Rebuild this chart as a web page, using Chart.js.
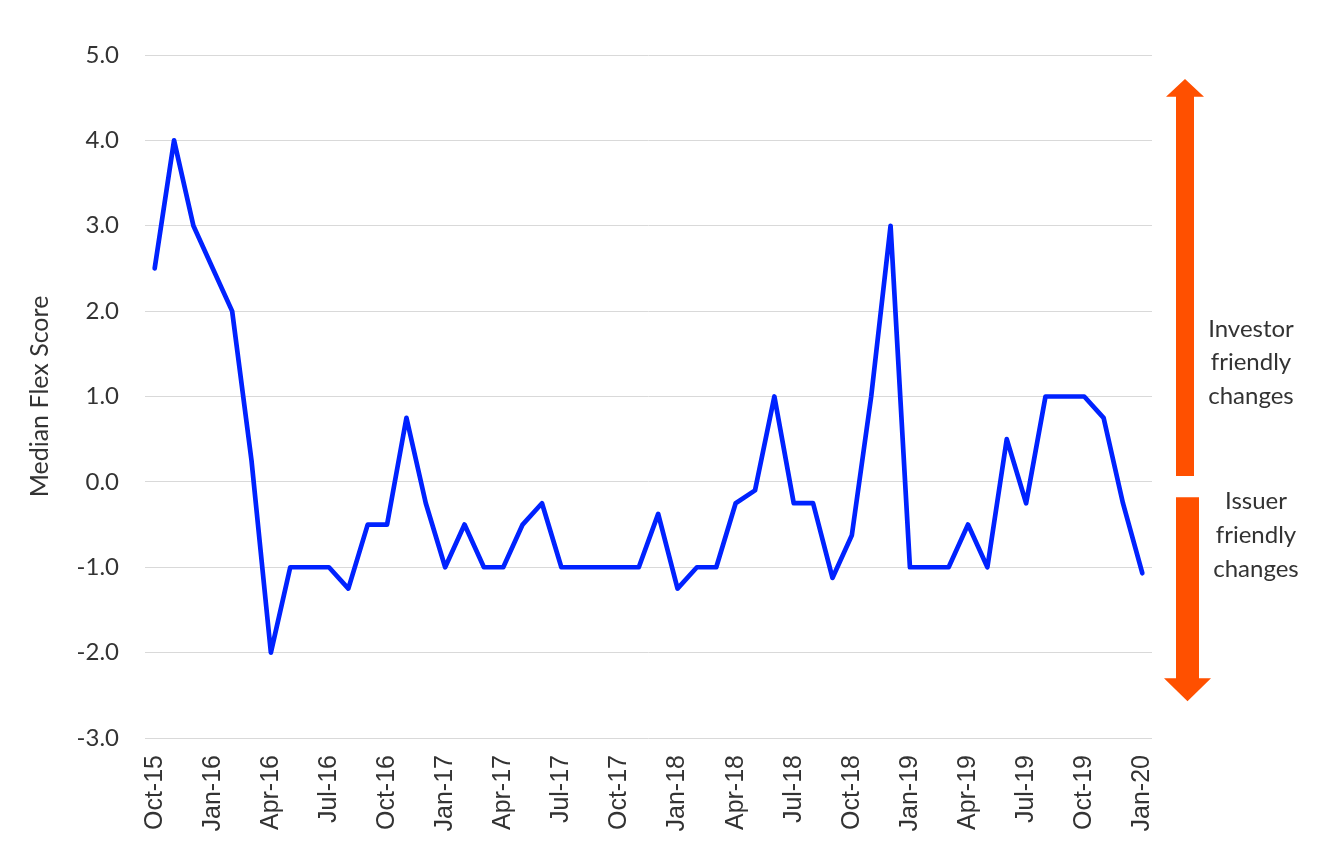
<!DOCTYPE html>
<html><head><meta charset="utf-8">
<script src="https://cdn.jsdelivr.net/npm/chart.js@4.4.1/dist/chart.umd.min.js"></script>
<style>html,body{margin:0;padding:0;background:#fff}#wrap{width:1322px;height:866px;position:relative}</style>
</head><body><div id="wrap"><canvas id="c"></canvas></div>
<script>
const months = ['Oct-15','Nov-15','Dec-15','Jan-16','Feb-16','Mar-16','Apr-16','May-16','Jun-16','Jul-16','Aug-16','Sep-16',
  'Oct-16','Nov-16','Dec-16','Jan-17','Feb-17','Mar-17','Apr-17','May-17','Jun-17','Jul-17','Aug-17','Sep-17',
  'Oct-17','Nov-17','Dec-17','Jan-18','Feb-18','Mar-18','Apr-18','May-18','Jun-18','Jul-18','Aug-18','Sep-18',
  'Oct-18','Nov-18','Dec-18','Jan-19','Feb-19','Mar-19','Apr-19','May-19','Jun-19','Jul-19','Aug-19','Sep-19',
  'Oct-19','Nov-19','Dec-19','Jan-20'];
const flexScore = [2.5, 4.0, 3.0, 2.5, 2.0, 0.25, -2.0, -1.0, -1.0, -1.0, -1.25, -0.5,
  -0.5, 0.75, -0.25, -1.0, -0.5, -1.0, -1.0, -0.5, -0.25, -1.0, -1.0, -1.0,
  -1.0, -1.0, -0.375, -1.25, -1.0, -1.0, -0.25, -0.1, 1.0, -0.25, -0.25, -1.125,
  -0.625, 1.0, 3.0, -1.0, -1.0, -1.0, -0.5, -1.0, 0.5, -0.25, 1.0, 1.0,
  1.0, 0.75, -0.25, -1.07];
const shownTicks = ['Oct-15','Jan-16','Apr-16','Jul-16','Oct-16','Jan-17','Apr-17','Jul-17','Oct-17',
  'Jan-18','Apr-18','Jul-18','Oct-18','Jan-19','Apr-19','Jul-19','Oct-19','Jan-20'];
const yAxisTitle = 'Median Flex Score';
const upperNote = ['Investor', 'friendly', 'changes'];
const lowerNote = ['Issuer', 'friendly', 'changes'];

const arrowPlugin = {
  id: 'arrows',
  afterDraw(chart) {
    const {ctx, chartArea: a, scales: {y}} = chart;
    ctx.save();
    ctx.fillStyle = '#FF5000';
    // upward arrow
    let cx = a.right + 33;
    let tip = y.getPixelForValue(4.72), base = y.getPixelForValue(4.51), end = y.getPixelForValue(0.07);
    ctx.beginPath();
    ctx.moveTo(cx, tip); ctx.lineTo(cx + 19, base); ctx.lineTo(cx + 9, base); ctx.lineTo(cx + 9, end);
    ctx.lineTo(cx - 9, end); ctx.lineTo(cx - 9, base); ctx.lineTo(cx - 19, base); ctx.closePath(); ctx.fill();
    // downward arrow
    cx = a.right + 35.5;
    tip = y.getPixelForValue(-2.57); base = y.getPixelForValue(-2.30); end = y.getPixelForValue(-0.18);
    ctx.beginPath();
    ctx.moveTo(cx, tip); ctx.lineTo(cx + 23.5, base); ctx.lineTo(cx + 11.5, base); ctx.lineTo(cx + 11.5, end);
    ctx.lineTo(cx - 11.5, end); ctx.lineTo(cx - 11.5, base); ctx.lineTo(cx - 23.5, base); ctx.closePath(); ctx.fill();
    // notes
    ctx.fillStyle = '#333';
    ctx.font = '24px Lato';
    ctx.textAlign = 'center';
    ctx.textBaseline = 'middle';
    const tx1 = a.right + 99, tx2 = a.right + 104;
    const y1 = y.getPixelForValue(1.79), y2 = y.getPixelForValue(-0.23), lh = 33.7;
    upperNote.forEach((t, i) => ctx.fillText(t, tx1, y1 + i * lh));
    lowerNote.forEach((t, i) => ctx.fillText(t, tx2, y2 + i * lh));
    ctx.restore();
  }
};

new Chart(document.getElementById('c'), {
  type: 'line',
  data: {
    labels: months,
    datasets: [{
      data: flexScore,
      borderColor: '#0022FF',
      borderWidth: 4.7,
      pointRadius: 0,
      tension: 0,
      fill: false,
      borderCapStyle: 'round',
      borderJoinStyle: 'round'
    }]
  },
  options: {
    responsive: true,
    maintainAspectRatio: false,
    animation: false,
    layout: {padding: {top: 55, right: 170, left: 0, bottom: 0}},
    plugins: {legend: {display: false}, tooltip: {enabled: false}},
    scales: {
      x: {
        offset: true,
        grid: {display: false, drawTicks: false},
        border: {display: false},
        ticks: {
          autoSkip: false, minRotation: 90, maxRotation: 90, padding: 17,
          color: '#333', font: {family: '"Liberation Sans", Arial', size: 25},
          callback(v, i) { const l = months[i]; return shownTicks.includes(l) ? l : ''; }
        },
        afterFit(s) { s.height = 128; }
      },
      y: {
        min: -3, max: 5,
        grid: {color: '#d9d9d9', lineWidth: 1, drawTicks: false},
        border: {display: false},
        ticks: {
          stepSize: 1, padding: 26, color: '#333',
          font: {family: 'Lato', size: 24},
          callback(v) { return Number(v).toFixed(1); }
        },
        title: {display: true, text: yAxisTitle, color: '#333', font: {family: 'Lato', size: 25}, padding: {top: 25, bottom: 0}},
        afterFit(s) { s.width = 145; }
      }
    }
  },
  plugins: [arrowPlugin]
});
</script>
</body></html>
